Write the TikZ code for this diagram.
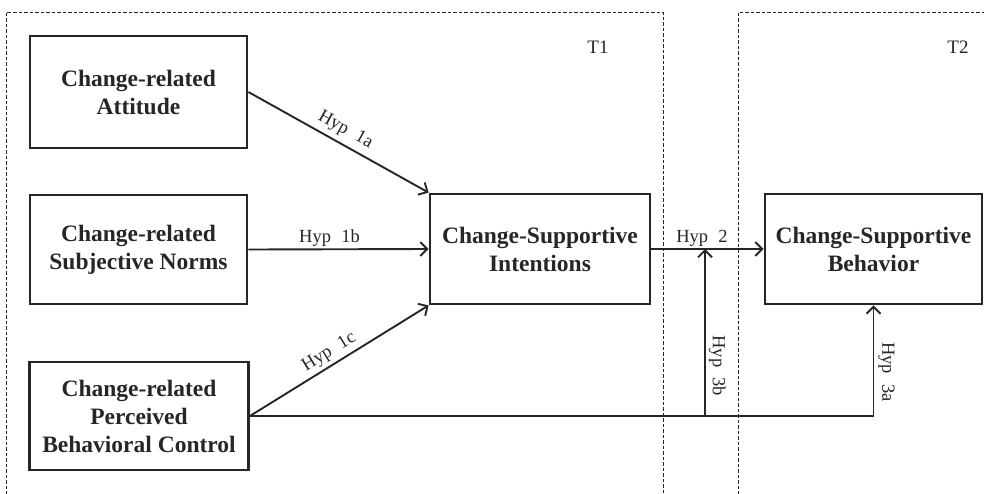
\documentclass[tikz,border=0pt]{standalone}
\usepackage{fontspec}
\setmainfont{Liberation Serif}
\usetikzlibrary{arrows.meta}
\begin{document}
\begin{tikzpicture}[x=1pt,y=-1pt,
  box/.style={draw=black!85,line width=2.8pt,minimum width=217pt,minimum height=110pt,inner sep=2pt,align=center,font=\fontsize{23.5}{28}\selectfont\bfseries,text=black!85},
  arr/.style={draw=black!85,line width=1.9pt,-{Straight Barb[length=7pt,width=14pt,line width=1.9pt]}},
  ln/.style={draw=black!85,line width=1.9pt},
  lab/.style={font=\fontsize{18.5}{20}\selectfont,text=black!85,inner sep=2pt},
  tlab/.style={font=\fontsize{19}{20}\selectfont,text=black!85,inner sep=2pt},
  frame/.style={draw=black!85,line width=0.9pt,dash pattern=on 3.5pt off 2pt}]
\useasboundingbox (0,0) rectangle (984,493);
\begin{scope}
\clip (0,0) rectangle (984,493);
\draw[frame] (6,500) -- (6,12) -- (663,12) -- (663,500);
\draw[frame] (738,500) -- (738,12) -- (990,12);
\end{scope}
\node[tlab] (t1) at (598,47) {T1};
\node[tlab] (t2) at (958,47) {T2};
\node[box] (att) at (138.5,92) [minimum height=112pt] {Change-related\\Attitude};
\node[box] (sn) at (138.5,249.5) [minimum height=109pt] {Change-related\\Subjective Norms};
\node[box] (pbc) at (139,416) [minimum width=219pt,minimum height=108pt] {Change-related\\Perceived\\Behavioral Control};
\node[box] (int) at (540,249) [minimum width=220pt] {Change-Supportive\\Intentions};
\node[box] (beh) at (873.5,249) {Change-Supportive\\Behavior};
\draw[arr] (att.east) -- node[lab,sloped,above=3pt,pos=0.5] {Hyp\hspace{0.55em}1a} (int.north west);
\draw[arr] (sn.east) -- node[lab,above,pos=0.45] {Hyp\hspace{0.55em}1b} (int.west);
\draw[arr] (pbc.east) -- node[lab,sloped,above=1pt,pos=0.48] {Hyp\hspace{0.55em}1c} (int.south west);
\draw[arr] (int.east) -- node[lab,above,pos=0.45] {Hyp\hspace{0.55em}2} (beh.west);
\coordinate (j) at (705,416);
\coordinate (k) at (705,249);
\draw[ln] (pbc.east) -- (j);
\draw[arr] (j) -| node[lab,rotate=-90,pos=0.7,anchor=south,yshift=2pt] {Hyp\hspace{0.55em}3a} (beh.south);
\draw[arr] (j) -- node[lab,rotate=-90,pos=0.3,anchor=south,yshift=1pt] {Hyp\hspace{0.55em}3b} (k);
\end{tikzpicture}
\end{document}
